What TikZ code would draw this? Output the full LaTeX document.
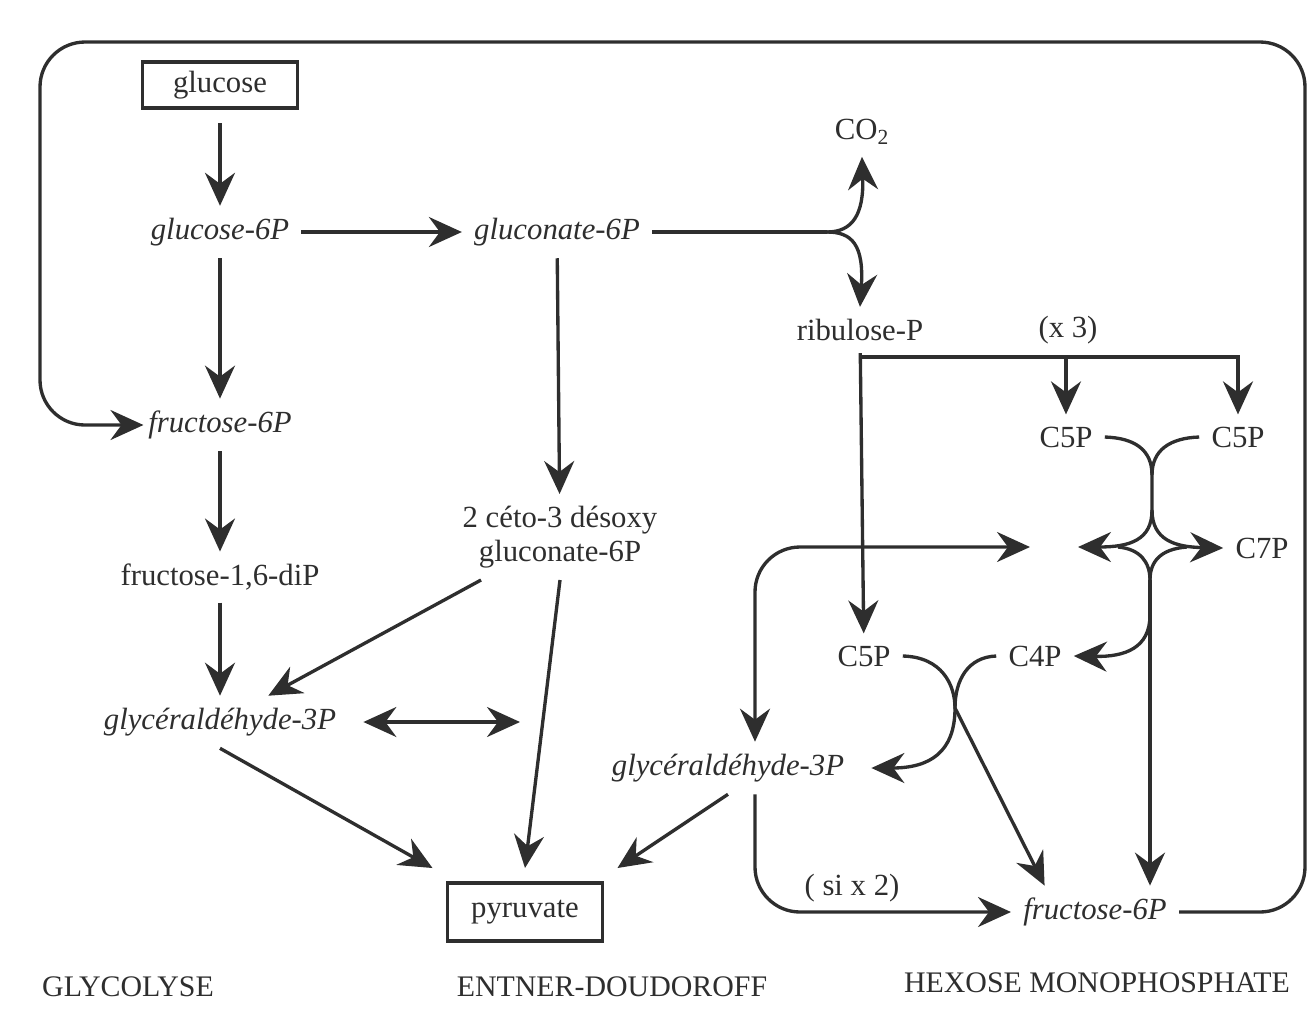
\documentclass[tikz,border=0pt]{standalone}
\usepackage{fontspec}
\setmainfont{Liberation Serif}
\usetikzlibrary{arrows.meta,positioning,calc}
\definecolor{pathInk}{HTML}{2e2e2e}
\tikzset{
  >={Stealth[length=6.6mm,width=6mm,inset=2.2mm]},
  metab/.style={font=\fontsize{17.5}{19}\selectfont, text=pathInk,
              inner sep=2pt, outer sep=5pt},
  metabit/.style={metab, font=\fontsize{17.5}{19}\selectfont\itshape},
  endbox/.style={metab, draw=pathInk, line width=1.8pt,
              minimum width=3.1cm, outer sep=0.3cm},
  pathname/.style={font=\fontsize{17}{19}\selectfont, text=pathInk},
  rx/.style={->, draw=pathInk, line width=1.9pt},
  rxboth/.style={<->, draw=pathInk, line width=1.9pt},
  bond/.style={draw=pathInk, line width=1.9pt},
}
\begin{document}
\begin{tikzpicture}[x=0.02cm, y=-0.02cm]
    \useasboundingbox (0,0) rectangle (1313,1009);
    % nodes
    \node[endbox, minimum height=0.92cm] (glc) at (220,85){glucose};
    \node[metabit] (glcsix) at (220,232){glucose-6P};
    \node[metabit] (frusixL) at (220,425){fructose-6P};
    \node[metab] (frudip) at (220,577){fructose-1,6-diP};
    \node[metabit] (gapL) at (220,722){glycéraldéhyde-3P};
    \node[metabit] (gnsix) at (557,232){gluconate-6P};
    \node[metab, align=center] (kdpg) at (560,537){2 céto-3 désoxy\\gluconate-6P};
    \node[endbox, minimum height=1.16cm] (pyr) at (525,912){pyruvate};
    \node[metab] (cotwo) at (862,132){CO\textsubscript{2}};
    \node[metab] (rubp) at (860,330){ribulose-P};
    \node[metab] (xthree) at (1068,330){(x 3)};
    \node[metab] (cfiveA) at (1066,437){C5P};
    \node[metab] (cfiveB) at (1238,437){C5P};
    \node[metab] (csevp) at (1262,548){C7P};
    \node[metab] (cfiveC) at (864,656){C5P};
    \node[metab] (cfourp) at (1035,656){C4P};
    \node[metabit] (gapR) at (728,768){glycéraldéhyde-3P};
    \node[metab] (sixtwo) at (852,888){( si x 2)};
    \node[metabit] (frusixR) at (1095,912){fructose-6P};
    \node[pathname] (tglyc) at (128,987){GLYCOLYSE};
    \node[pathname] (ted) at (612,987){ENTNER-DOUDOROFF};
    \node[pathname] (thmp) at (1097,983){HEXOSE MONOPHOSPHATE};

    % junction points
    \coordinate (edJoin) at (520,722);
    \coordinate (forkx) at (827,0);
    \coordinate (fork) at (gnsix.east -| forkx);
    \coordinate (split) at (860,357);
    \coordinate (tkIn) at (1030,547);
    \coordinate (tkOut) at (1078,547);
    \coordinate (loopTL) at (755,547);
    \coordinate (tkTop) at (1152,475);
    \coordinate (tkMid) at (1152,510);
    \coordinate (tkL) at (1118,547);
    \coordinate (tkR) at (1187,547);
    \coordinate (tkBot) at (1150,580);
    \coordinate (tkC4) at (1150,615);
    \coordinate (cross) at (955,708);
    \coordinate (boxTR) at (1305,42);
    \coordinate (boxBL) at (40,425);

    % glycolyse
    \draw[rx] (glc) -- (glcsix);
    \draw[rx] (glcsix) -- (frusixL);
    \draw[rx] (frusixL) -- (frudip);
    \draw[rx] (frudip) -- (gapL);
    \draw[rx] (gapL.south) -- (pyr.north west);
    \draw[rxboth, shorten <=0.3cm] (gapL.east) -- (edJoin);

    % entner-doudoroff
    \draw[rx] (glcsix) -- (gnsix);
    \draw[rx] (gnsix) -- (kdpg);
    \draw[rx] (kdpg) -- (gapL);
    \draw[rx] (kdpg.south) -- (pyr.north);
    \draw[rx] (gapR.south) -- (pyr.north east);

    % hexose monophosphate
    \draw[bond] (gnsix.east) -- (fork);
    \draw[rx] (fork) .. controls +(25,0) and (864,215) .. (cotwo.south);
    \draw[rx] (fork) .. controls +(25,0) and (864,245) .. (rubp.north);
    \draw[rx] (rubp) -- (cfiveC);
    \draw[rx] (split) -| (cfiveB);
    \draw[rx] (split -| cfiveA) -- (cfiveA);
    \draw[bond] (cfiveA.east) .. controls (1135,438) and (1152,450) .. (tkTop);
    \draw[bond] (cfiveB.west) .. controls (1170,438) and (1152,450) .. (tkTop) -- (tkMid);
    \draw[rx] (tkMid) .. controls (1152,540) and (1130,547) .. (tkOut);
    \draw[rx] (tkMid) .. controls (1152,540) and (1175,547) .. (csevp.west);
    \draw[bond] (tkL) .. controls (1140,549) and (1150,562) .. (tkBot);
    \draw[bond] (tkR) .. controls (1160,549) and (1150,562) .. (tkBot);
    \draw[rx] (tkBot) -- (tkBot |- frusixR.north);
    \draw[rx] (tkC4) .. controls (1150,648) and (1125,657) .. (cfourp.east);
    \draw[rx] (cfiveC.east) .. controls (942,657) and (955,685) .. (cross)
      -- ($(frusixR.north)!.6!(frusixR.north west)$);
    \draw[rx, shorten >=0.3cm] (cfourp.west) .. controls (968,657) and (955,680) .. (cross)
      .. controls (955,752) and (930,768) .. (gapR.east);
    \draw[rxboth, rounded corners=0.9cm] (tkIn) -- (loopTL) -- (loopTL |- gapR.north);
    \draw[rx, rounded corners=0.9cm] (loopTL |- gapR.south) |- (frusixR.west);

    % retour fructose-6P
    \draw[rx, rounded corners=0.9cm, shorten >=-0.15cm] (frusixR.east) -| (boxTR) -| (boxBL) -- (frusixL.west);
  \end{tikzpicture}
\end{document}
